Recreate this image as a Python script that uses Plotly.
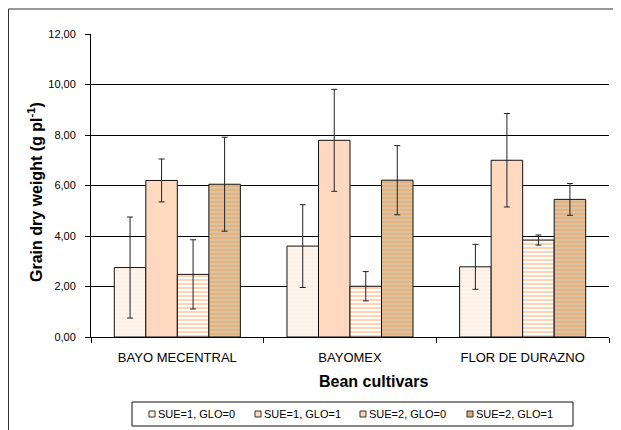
import plotly.graph_objects as go

categories = ["BAYO MECENTRAL", "BAYOMEX", "FLOR DE DURAZNO"]
series_names = ["SUE=1, GLO=0", "SUE=1, GLO=1", "SUE=2, GLO=0", "SUE=2, GLO=1"]
values = [
    [2.75, 3.60, 2.78],
    [6.20, 7.79, 7.00],
    [2.48, 2.01, 3.84],
    [6.05, 6.21, 5.45],
]
errors = [
    [2.00, 1.64, 0.89],
    [0.85, 2.02, 1.85],
    [1.37, 0.58, 0.20],
    [1.86, 1.37, 0.63],
]
y_ticks = [0, 2, 4, 6, 8, 10, 12]

# styles
bar_colors = ["#FFEEE3", "#FFD9BF", "#FFFFFF", "#E4B17F"]
pattern_shapes = ["-", "", "-", "-"]
pattern_fg = ["#FFF7F1", "#FFD9BF", "#FFCDAA", "#D9C7A6"]
legend_colors = ["#FFF0E6", "#FFDAC0", "#FFD0B0", "#DDAA78"]

# page offset (body margin) and geometry in page pixels
OFF = 8
W, H = 621 - OFF, 430 - OFF
PL, PT, PW, PH = 91, 34, 518, 303  # plot area in page pixels
L, T = PL - OFF, PT - OFF
R, B = W - L - PW, H - T - PH


def px(x):
    return (x - PL) / PW


def py(y):
    return (PT + PH - y) / PH


FONT = "Liberation Sans, Arial, sans-serif"

fig = go.Figure()
for i, name in enumerate(series_names):
    pattern = dict(shape=pattern_shapes[i], fgcolor=pattern_fg[i], bgcolor=bar_colors[i],
                   size=4, solidity=0.45, fillmode="replace")
    fig.add_trace(go.Bar(
        x=categories, y=values[i], name=name,
        marker=dict(color=bar_colors[i], line=dict(color="#111111", width=1),
                    pattern=pattern),
        error_y=dict(type="data", array=errors[i], visible=True,
                     color="#222222", thickness=1, width=3),
        showlegend=False,
    ))

shapes = []
annotations = []
# outer chart frame (only top and left edges are inside the view)
shapes.append(dict(type="line", xref="paper", yref="paper",
                   x0=px(8.5), x1=px(621), y0=py(9), y1=py(9),
                   line=dict(color="#333333", width=1), layer="below"))
shapes.append(dict(type="line", xref="paper", yref="paper",
                   x0=px(8.5), x1=px(8.5), y0=py(9), y1=py(430),
                   line=dict(color="#333333", width=1), layer="below"))
# legend box
shapes.append(dict(type="rect", xref="paper", yref="paper",
                   x0=px(132), x1=px(573), y0=py(426), y1=py(402),
                   line=dict(color="#111111", width=1), fillcolor="white"))
item_x = [149, 255, 360, 467]
for i, name in enumerate(series_names):
    shapes.append(dict(type="rect", xref="paper", yref="paper",
                       x0=px(item_x[i]), x1=px(item_x[i] + 6),
                       y0=py(417), y1=py(411),
                       line=dict(color="#333333", width=1), fillcolor=legend_colors[i]))
    annotations.append(dict(x=px(item_x[i] + 7), y=py(414), xref="paper", yref="paper",
                            text=name, showarrow=False, xanchor="left", yanchor="middle",
                            font=dict(family=FONT, size=11, color="#000000")))

annotations.append(dict(x=px(373), y=py(381), xref="paper", yref="paper",
                        text="<b>Bean cultivars</b>", showarrow=False,
                        xanchor="center", yanchor="middle",
                        font=dict(family=FONT, size=16, color="#000000")))
annotations.append(dict(x=px(35), y=py(192), xref="paper", yref="paper",
                        text="<b>Grain dry weight (g pl<sup>-1</sup>)</b>", showarrow=False,
                        textangle=-90, xanchor="center", yanchor="middle",
                        font=dict(family=FONT, size=16, color="#000000")))

fig.update_layout(
    width=W, height=H,
    margin=dict(l=L, r=R, t=T, b=B, pad=0),
    paper_bgcolor="white", plot_bgcolor="white",
    barmode="group", bargap=0.27, bargroupgap=0,
    separators=",.",
    font=dict(family=FONT, size=11, color="#000000"),
    shapes=shapes, annotations=annotations,
    showlegend=False,
)
fig.update_xaxes(
    type="category", showgrid=False, showline=True, linecolor="#000000", linewidth=1,
    ticks="outside", tickson="boundaries", ticklen=5, tickcolor="#000000",
    tickfont=dict(family=FONT, size=13, color="#000000"), ticklabelstandoff=8,
)
fig.update_yaxes(
    range=[0, 12], tickvals=y_ticks, tickformat=".2f",
    showgrid=True, gridcolor="#000000", gridwidth=1,
    showline=True, linecolor="#000000", linewidth=1,
    ticks="outside", ticklen=5, tickcolor="#000000",
    tickfont=dict(family=FONT, size=11, color="#000000"), ticklabelstandoff=7,
    zeroline=False,
)

fig.write_html("out.html")
